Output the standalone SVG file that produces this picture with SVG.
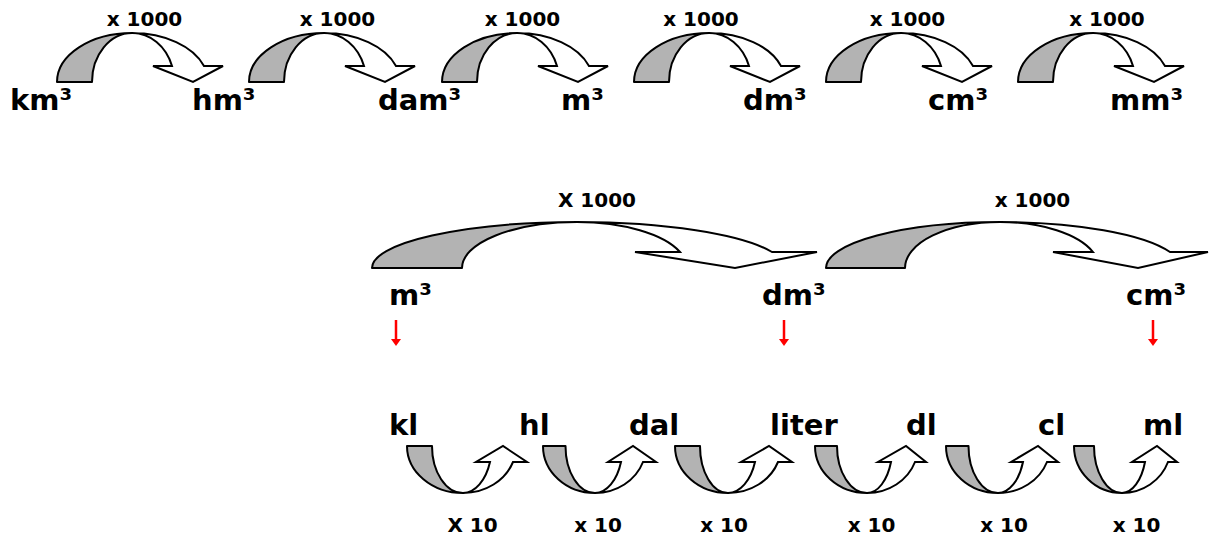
<svg xmlns="http://www.w3.org/2000/svg" width="1210" height="538" viewBox="0 0 1210 538">
<style>
.g{fill:#b3b3b3;stroke:#000;stroke-width:2;stroke-linejoin:round}
.w{fill:#fff;stroke:#000;stroke-width:2;stroke-linejoin:miter}
.u{font-family:"DejaVu Sans","Verdana",sans-serif;font-weight:bold;font-size:29px;fill:#000}
.f{font-family:"DejaVu Sans","Verdana",sans-serif;font-weight:bold;font-size:20px;fill:#000;text-anchor:middle}
.r{stroke:#f00;stroke-width:2.5}
.rh{fill:#f00}
</style>
<defs>
<g id="topArrow">
<path class="g" d="M0,82 A75,49 0 0 1 75,33 A40,49 0 0 0 35,82 Z"/>
<path class="w" d="M75,33 A76,49 0 0 1 147,66 L166,66 L136,82 L96,66 L115,66 A42,49 0 0 0 75,33 Z"/>
</g>
<g id="redArrow">
<line class="r" x1="0" y1="320" x2="0" y2="341"/>
<polygon class="rh" points="-5,339 5,339 0,346"/>
</g>
</defs>
<g id="connectors">
<use href="#topArrow" x="57"/>
<use href="#topArrow" x="249"/>
<use href="#topArrow" x="442"/>
<use href="#topArrow" x="634"/>
<use href="#topArrow" x="826"/>
<use href="#topArrow" x="1018"/>
<path class="g" d="M372,268 A205,46 0 0 1 577,222 A115,46 0 0 0 462,268 Z"/>
<path class="w" d="M577,222 A208,46 0 0 1 772,252 L817,252 L735,268 L635,252 L680,252 A110,46 0 0 0 577,222 Z"/>
<path class="g" d="M826,268 A174,46 0 0 1 1000,222 A95,46 0 0 0 905,268 Z"/>
<path class="w" d="M1000,222 A181,46 0 0 1 1170,252 L1208,252 L1138,268 L1053,252 L1093,252 A99,46 0 0 0 1000,222 Z"/>
<use href="#redArrow" x="396"/>
<use href="#redArrow" x="784"/>
<use href="#redArrow" x="1153"/>
<path class="g" d="M407,446 A56,47 0 0 0 463,493 A31,47 0 0 1 432,446 Z"/>
<path class="w" d="M463,493 A53,47 0 0 0 513,462 L527,462 L503,446 L476,462 L490,462 A29,47 0 0 1 463,493 Z"/>
<path class="g" d="M543,446 A52,47 0 0 0 595,493 A29.5,47 0 0 1 565.5,446 Z"/>
<path class="w" d="M595,493 A51,47 0 0 0 643,462 L656,462 L633,446 L608,462 L621,462 A27.7,47 0 0 1 595,493 Z"/>
<path class="g" d="M675,446 A53,47 0 0 0 728,493 A28,47 0 0 1 700,446 Z"/>
<path class="w" d="M728,493 A53,47 0 0 0 778,462 L792,462 L769,446 L741,462 L755,462 A29,47 0 0 1 728,493 Z"/>
<path class="g" d="M815,446 A52,47 0 0 0 867,493 A30,47 0 0 1 837,446 Z"/>
<path class="w" d="M867,493 A51,47 0 0 0 915,462 L926,462 L906,446 L878,462 L891,462 A25.5,47 0 0 1 867,493 Z"/>
<path class="g" d="M946,446 A52,47 0 0 0 998,493 A29.5,47 0 0 1 968.5,446 Z"/>
<path class="w" d="M998,493 A52,47 0 0 0 1047,462 L1058,462 L1038,446 L1011,462 L1023,462 A26.6,47 0 0 1 998,493 Z"/>
<path class="g" d="M1074,446 A48,47 0 0 0 1122,493 A28,47 0 0 1 1094,446 Z"/>
<path class="w" d="M1122,493 A49,47 0 0 0 1168,462 L1177,462 L1157,446 L1132,462 L1145,462 A24.5,47 0 0 1 1122,493 Z"/>
</g>
<g id="factors">
<text class="f" x="144.5" y="26">x 1000</text>
<text class="f" x="337.5" y="26">x 1000</text>
<text class="f" x="522.5" y="26">x 1000</text>
<text class="f" x="701" y="26">x 1000</text>
<text class="f" x="907.5" y="26">x 1000</text>
<text class="f" x="1107" y="26">x 1000</text>
<text class="f" x="597" y="207">X 1000</text>
<text class="f" x="1032.5" y="207">x 1000</text>
<text class="f" x="472.5" y="532">X 10</text>
<text class="f" x="598" y="532">x 10</text>
<text class="f" x="724" y="532">x 10</text>
<text class="f" x="871.5" y="532">x 10</text>
<text class="f" x="1004" y="532">x 10</text>
<text class="f" x="1136.5" y="532">x 10</text>
</g>
<g id="node-km3"><text class="u" x="10" y="110">km³</text></g>
<g id="node-hm3"><text class="u" x="192" y="110">hm³</text></g>
<g id="node-dam3"><text class="u" x="378" y="110">dam³</text></g>
<g id="node-m3"><text class="u" x="561" y="110">m³</text></g>
<g id="node-dm3"><text class="u" x="743" y="110">dm³</text></g>
<g id="node-cm3"><text class="u" x="928" y="110">cm³</text></g>
<g id="node-mm3"><text class="u" x="1110" y="110">mm³</text></g>
<g id="node-m3b"><text class="u" x="389" y="305">m³</text></g>
<g id="node-dm3b"><text class="u" x="762" y="305">dm³</text></g>
<g id="node-cm3b"><text class="u" x="1126" y="305">cm³</text></g>
<g id="node-kl"><text class="u" x="389" y="435">kl</text></g>
<g id="node-hl"><text class="u" x="519" y="435">hl</text></g>
<g id="node-dal"><text class="u" x="629" y="435">dal</text></g>
<g id="node-liter"><text class="u" x="770" y="435">liter</text></g>
<g id="node-dl"><text class="u" x="906" y="435">dl</text></g>
<g id="node-cl"><text class="u" x="1038" y="435">cl</text></g>
<g id="node-ml"><text class="u" x="1143" y="435">ml</text></g>
</svg>
